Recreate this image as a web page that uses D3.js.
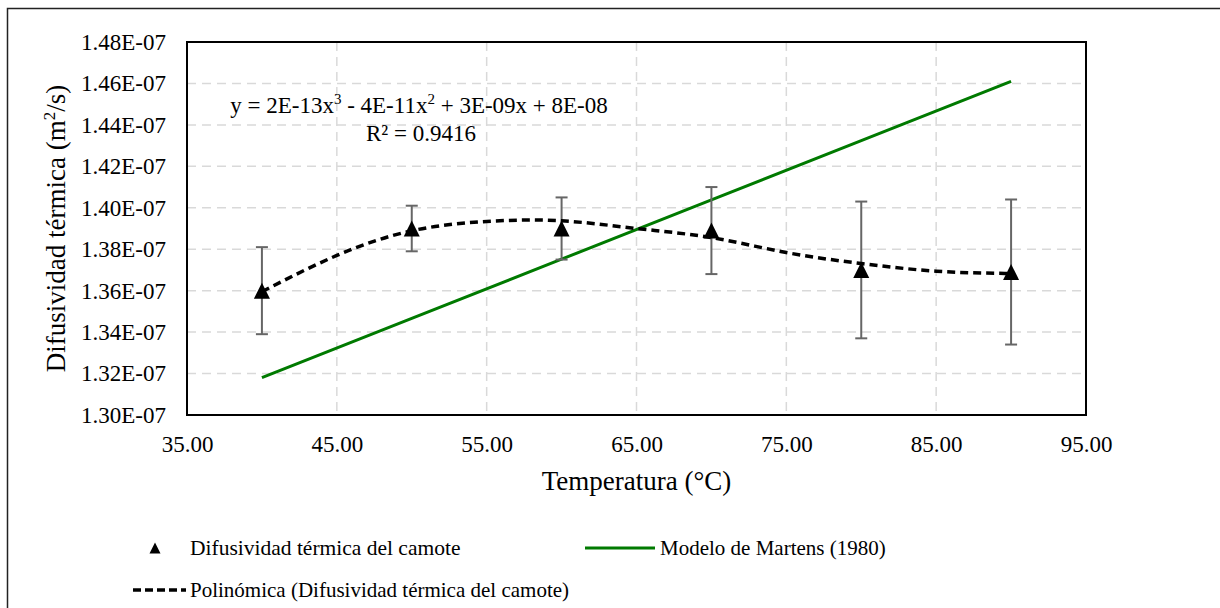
<!DOCTYPE html>
<html>
<head>
<meta charset="utf-8">
<script src="https://cdn.jsdelivr.net/npm/d3@7"></script>
</head>
<body style="margin:0">
<script>
// data
var temps = [40, 50, 60, 70, 80, 90];
var difusividad = [1.360e-7, 1.390e-7, 1.390e-7, 1.389e-7, 1.370e-7, 1.369e-7];
var errores = [0.021e-7, 0.011e-7, 0.015e-7, 0.021e-7, 0.033e-7, 0.035e-7];
var martens = [1.318e-7, 1.3466e-7, 1.3752e-7, 1.4038e-7, 1.4324e-7, 1.461e-7];
var polyTemps = [40, 45, 50, 55, 60, 65, 70, 75, 80, 85, 90];
var polyValues = [1.3595e-7, 1.3770e-7, 1.3889e-7, 1.3934e-7, 1.3937e-7, 1.3900e-7,
                  1.3856e-7, 1.3784e-7, 1.3731e-7, 1.3694e-7, 1.3683e-7];
var xTicks = [35, 45, 55, 65, 75, 85, 95];
var yTicks = [1.30e-7, 1.32e-7, 1.34e-7, 1.36e-7, 1.38e-7, 1.40e-7, 1.42e-7, 1.44e-7, 1.46e-7, 1.48e-7];

var svgWidth = 1220;
var svgHeight = 608;
var margin = { top: 42, right: 134, bottom: 193, left: 187 };
var width = svgWidth - margin.left - margin.right;
var height = svgHeight - margin.top - margin.bottom;

var svg = d3.select("body")
  .append("svg")
  .attr("width", svgWidth)
  .attr("height", svgHeight)
  .attr("font-family", "Liberation Serif");

// outer chart border
svg.append("rect")
  .attr("x", 7.5).attr("y", 8.5)
  .attr("width", 1240).attr("height", 640)
  .attr("fill", "none")
  .attr("stroke", "#222")
  .attr("stroke-width", 1.5);

var chartGroup = svg.append("g")
  .attr("transform", `translate(${margin.left}, ${margin.top})`);

var x = d3.scaleLinear().domain([35, 95]).range([0, width]);
var y = d3.scaleLinear().domain([1.30e-7, 1.48e-7]).range([height, 0]);

// gridlines
chartGroup.append("g")
  .selectAll("line")
  .data(yTicks.slice(1, -1))
  .enter()
  .append("line")
  .attr("x1", 0).attr("x2", width)
  .attr("y1", d => y(d)).attr("y2", d => y(d))
  .attr("stroke", "#d9d9d9")
  .attr("stroke-width", 1.5)
  .attr("stroke-dasharray", "9,6");

chartGroup.append("g")
  .selectAll("line")
  .data(xTicks.slice(1, -1))
  .enter()
  .append("line")
  .attr("y1", 0).attr("y2", height)
  .attr("x1", d => x(d)).attr("x2", d => x(d))
  .attr("stroke", "#d9d9d9")
  .attr("stroke-width", 1.5)
  .attr("stroke-dasharray", "9,6");

// axes (labels only, the frame is drawn below)
var bottomAxis = d3.axisBottom(x).tickValues(xTicks).tickSize(0).tickPadding(21)
  .tickFormat(d => d.toFixed(2));
var leftAxis = d3.axisLeft(y).tickValues(yTicks).tickSize(0).tickPadding(21)
  .tickFormat(d => (d * 1e7).toFixed(2) + "E-07");

var gx = chartGroup.append("g")
  .attr("transform", `translate(0, ${height})`)
  .call(bottomAxis);
var gy = chartGroup.append("g").call(leftAxis);
[gx, gy].forEach(function (g) {
  g.attr("font-family", "Liberation Serif").attr("font-size", 23);
  g.select(".domain").remove();
  g.selectAll("text").attr("fill", "#000");
});

// plot frame
chartGroup.append("rect")
  .attr("width", width).attr("height", height)
  .attr("fill", "none")
  .attr("stroke", "#000")
  .attr("stroke-width", 2);

// Martens model line
var line = d3.line().x((d, i) => x(temps[i])).y(d => y(d));
chartGroup.append("path")
  .datum(martens)
  .attr("d", line)
  .attr("fill", "none")
  .attr("stroke", "#007a00")
  .attr("stroke-width", 3);

// error bars
var bars = chartGroup.append("g")
  .selectAll("g")
  .data(difusividad)
  .enter()
  .append("g")
  .attr("stroke", "#666")
  .attr("stroke-width", 2);
bars.append("line")
  .attr("x1", (d, i) => x(temps[i])).attr("x2", (d, i) => x(temps[i]))
  .attr("y1", (d, i) => y(d - errores[i])).attr("y2", (d, i) => y(d + errores[i]));
bars.append("line")
  .attr("x1", (d, i) => x(temps[i]) - 6).attr("x2", (d, i) => x(temps[i]) + 6)
  .attr("y1", (d, i) => y(d + errores[i])).attr("y2", (d, i) => y(d + errores[i]));
bars.append("line")
  .attr("x1", (d, i) => x(temps[i]) - 6).attr("x2", (d, i) => x(temps[i]) + 6)
  .attr("y1", (d, i) => y(d - errores[i])).attr("y2", (d, i) => y(d - errores[i]));

// triangle markers
function triangle(s) {
  return `M0,${-s / 2}L${s / 2},${s / 2}L${-s / 2},${s / 2}Z`;
}
chartGroup.append("g")
  .selectAll("path")
  .data(difusividad)
  .enter()
  .append("path")
  .attr("transform", (d, i) => `translate(${x(temps[i])}, ${y(d)})`)
  .attr("d", triangle(16))
  .attr("fill", "#000");

// polynomial trendline
var polyLine = d3.line()
  .x((d, i) => x(polyTemps[i]))
  .y(d => y(d))
  .curve(d3.curveNatural);
chartGroup.append("path")
  .datum(polyValues)
  .attr("d", polyLine)
  .attr("fill", "none")
  .attr("stroke", "#000")
  .attr("stroke-width", 3.5)
  .attr("stroke-dasharray", "8,5");

// text helper
function label(sel, size) {
  return sel.attr("font-family", "Liberation Serif").attr("font-size", size).attr("fill", "#000");
}

// trendline equation
var eq = label(svg.append("text"), 23)
  .attr("x", 419).attr("y", 113)
  .attr("text-anchor", "middle");
eq.append("tspan").text("y = 2E-13x");
eq.append("tspan").attr("dy", -9).attr("font-size", 15).text("3");
eq.append("tspan").attr("dy", 9).text(" - 4E-11x");
eq.append("tspan").attr("dy", -9).attr("font-size", 15).text("2");
eq.append("tspan").attr("dy", 9).text(" + 3E-09x + 8E-08");

label(svg.append("text"), 23)
  .attr("x", 421).attr("y", 141)
  .attr("text-anchor", "middle")
  .text("R² = 0.9416");

// axis titles
label(svg.append("text"), 27)
  .attr("x", margin.left + width / 2).attr("y", 490)
  .attr("text-anchor", "middle")
  .text("Temperatura (°C)");

var yt = label(svg.append("text"), 27)
  .attr("transform", `translate(65, ${margin.top + height / 2}) rotate(-90)`)
  .attr("text-anchor", "middle");
yt.append("tspan").text("Difusividad térmica (m");
yt.append("tspan").attr("dy", -10).attr("font-size", 17).text("2");
yt.append("tspan").attr("dy", 10).text("/s)");

// legend
var legend = svg.append("g");
legend.append("path")
  .attr("transform", "translate(155, 548)")
  .attr("d", triangle(11))
  .attr("fill", "#000");
label(legend.append("text"), 21.5)
  .attr("x", 190).attr("y", 555)
  .text("Difusividad térmica del camote");

legend.append("line")
  .attr("x1", 585).attr("x2", 655)
  .attr("y1", 548).attr("y2", 548)
  .attr("stroke", "#007a00")
  .attr("stroke-width", 3);
label(legend.append("text"), 21)
  .attr("x", 660).attr("y", 555)
  .text("Modelo de Martens (1980)");

legend.append("line")
  .attr("x1", 133).attr("x2", 186)
  .attr("y1", 590).attr("y2", 590)
  .attr("stroke", "#000")
  .attr("stroke-width", 3.5)
  .attr("stroke-dasharray", "8,4");
label(legend.append("text"), 21)
  .attr("x", 190).attr("y", 597)
  .text("Polinómica (Difusividad térmica del camote)");
</script>
</body>
</html>
